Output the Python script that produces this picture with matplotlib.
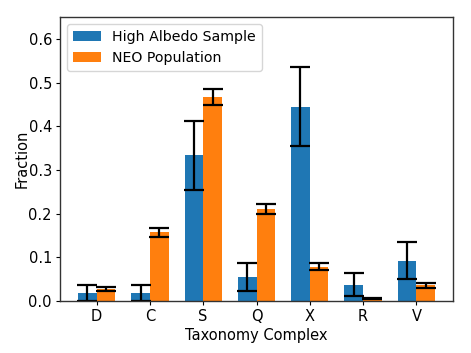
import numpy as np
import matplotlib
matplotlib.use("Agg")
import matplotlib.pyplot as plt

categories = ["D", "C", "S", "Q", "X", "R", "V"]
high_albedo = [1/54, 1/54, 18/54, 3/54, 24/54, 2/54, 5/54]
high_albedo_err = [np.sqrt(1)/54, np.sqrt(1)/54, np.sqrt(18)/54, np.sqrt(3)/54,
                   np.sqrt(24)/54, np.sqrt(2)/54, np.sqrt(5)/54]
neo_pop = [0.027, 0.157, 0.467, 0.211, 0.078, 0.006, 0.036]
neo_err = [0.005, 0.011, 0.018, 0.012, 0.008, 0.002, 0.006]

fs = 10.5
fig, ax = plt.subplots(figsize=(4.71, 3.53), dpi=100)
fig.subplots_adjust(left=0.1274, right=0.9618, bottom=0.1473, top=0.9518)
x = np.arange(len(categories))
w = 0.35
ekw = dict(elinewidth=1.6, capthick=1.6)
ax.bar(x - w/2, high_albedo, w, yerr=high_albedo_err, color="#1f77b4",
       label="High Albedo Sample", capsize=7, error_kw=ekw)
ax.bar(x + w/2, neo_pop, w, yerr=neo_err, color="#ff7f0e",
       label="NEO Population", capsize=7, error_kw=ekw)
ax.set_xticks(x)
ax.set_xticklabels(categories)
ax.set_ylim(0, 0.65)
ax.set_xlabel("Taxonomy Complex", fontsize=fs, labelpad=3)
ax.set_ylabel("Fraction", fontsize=fs, labelpad=-1)
ax.tick_params(labelsize=fs, length=2.9, pad=2.9)
for s in ax.spines.values():
    s.set_linewidth(1.0)
    s.set_color("#333333")
ax.legend(loc="upper left", fontsize=10.2)
fig.savefig("out.png", dpi=100)
